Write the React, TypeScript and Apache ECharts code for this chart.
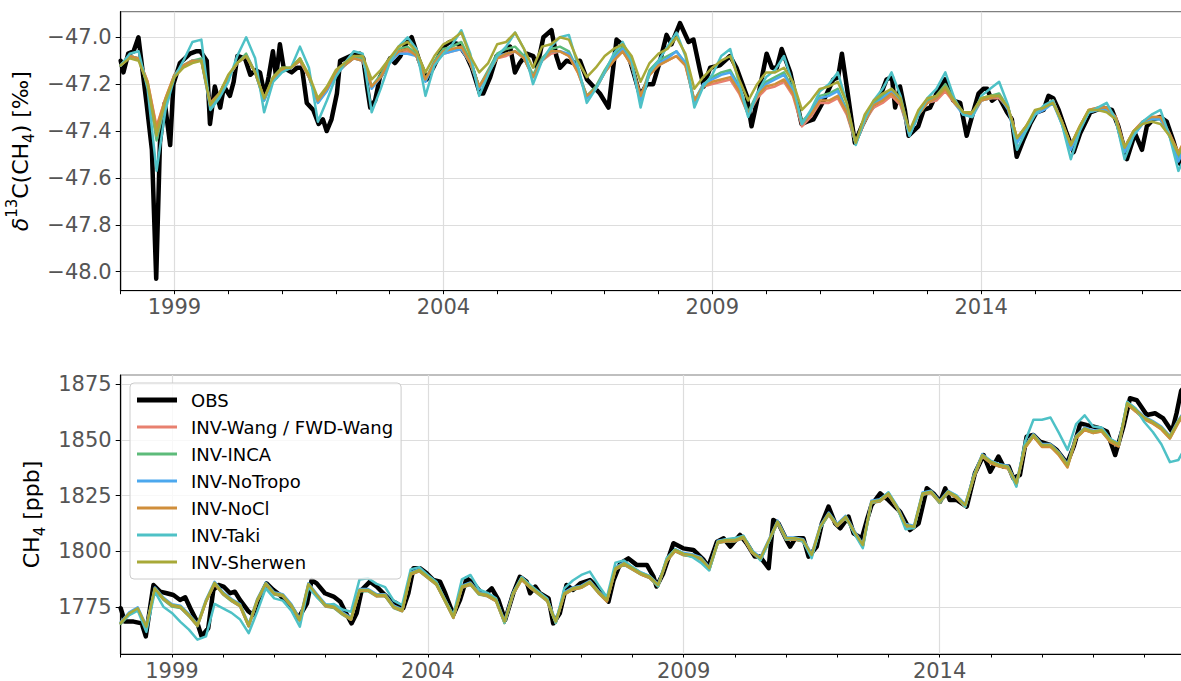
import React, { useEffect, useRef } from 'react';
import * as echarts from 'echarts';

const FONT = 'DejaVu Sans';

const seriesNames = ['OBS', 'INV-Wang / FWD-Wang', 'INV-INCA', 'INV-NoTropo', 'INV-NoCl', 'INV-Taki', 'INV-Sherwen'];
const seriesColors = ['#000000', '#E8806F', '#5DBB7A', '#4CA8EE', '#D08E3B', '#4EC1C6', '#A8A938'];
const majorYears = [1999, 2004, 2009, 2014];

// model output: bimonthly from 1998.0 (6 values per year)
const modelStart = 1998;
const modelPerYear = 6;

// ---------- delta13C(CH4) [permil] ----------
const obsD13cT = [1998.00, 1998.05, 1998.14, 1998.24, 1998.33, 1998.48, 1998.58, 1998.66, 1998.73, 1998.82, 1998.92, 1998.98,
  1999.10, 1999.29, 1999.40, 1999.48, 1999.60, 1999.66, 1999.75, 1999.85, 1999.92, 2000.03, 2000.10, 2000.17, 2000.31, 2000.41,
  2000.50, 2000.59, 2000.68, 2000.75, 2000.83, 2000.89, 2000.96, 2001.03, 2001.18, 2001.28, 2001.37, 2001.46, 2001.58, 2001.68,
  2001.76, 2001.83, 2001.92, 2002.02, 2002.08, 2002.27, 2002.45, 2002.51, 2002.58, 2002.64, 2002.73, 2002.82, 2002.92, 2003.01,
  2003.10, 2003.20, 2003.30, 2003.41, 2003.55, 2003.69, 2003.81, 2004.00, 2004.12, 2004.28, 2004.43, 2004.53, 2004.68, 2004.74,
  2004.87, 2004.99, 2005.11, 2005.24, 2005.33, 2005.42, 2005.55, 2005.67, 2005.74, 2005.86, 2006.01, 2006.10, 2006.17, 2006.29,
  2006.42, 2006.54, 2006.67, 2006.79, 2006.91, 2007.07, 2007.22, 2007.32, 2007.47, 2007.66, 2007.78, 2007.90, 2008.03, 2008.15,
  2008.24, 2008.40, 2008.56, 2008.65, 2008.77, 2008.84, 2008.96, 2009.14, 2009.33, 2009.45, 2009.64, 2009.73, 2009.89, 2010.01,
  2010.11, 2010.20, 2010.29, 2010.45, 2010.66, 2010.76, 2010.88, 2011.07, 2011.25, 2011.34, 2011.41, 2011.50, 2011.65, 2011.78,
  2011.93, 2012.09, 2012.24, 2012.34, 2012.40, 2012.49, 2012.58, 2012.65, 2012.83, 2012.93, 2013.05, 2013.17, 2013.33, 2013.48,
  2013.61, 2013.73, 2013.85, 2013.95, 2014.04, 2014.11, 2014.20, 2014.32, 2014.48, 2014.57, 2014.66, 2014.78, 2014.91, 2015.03,
  2015.16, 2015.25, 2015.34, 2015.44, 2015.59, 2015.72, 2015.84, 2016.03, 2016.15, 2016.27, 2016.43, 2016.55, 2016.71, 2016.86,
  2016.99, 2017.08, 2017.20, 2017.33, 2017.45, 2017.57, 2017.70, 2017.80];
const obsD13cV = [-47.10, -47.15, -47.07, -47.06, -47.00, -47.28, -47.48, -48.03, -47.45, -47.28, -47.46, -47.20,
  -47.11, -47.07, -47.06, -47.06, -47.10, -47.37, -47.21, -47.30, -47.21, -47.25, -47.19, -47.08, -47.09, -47.16,
  -47.14, -47.15, -47.25, -47.17, -47.06, -47.17, -47.03, -47.13, -47.15, -47.13, -47.13, -47.28, -47.31, -47.37,
  -47.35, -47.40, -47.35, -47.24, -47.10, -47.08, -47.07, -47.09, -47.21, -47.30, -47.27, -47.17, -47.13, -47.09,
  -47.11, -47.08, -47.03, -47.00, -47.10, -47.18, -47.13, -47.04, -47.02, -47.03, -47.08, -47.13, -47.24, -47.24,
  -47.17, -47.08, -47.07, -47.04, -47.15, -47.11, -47.07, -47.08, -47.13, -47.00, -46.97, -47.08, -47.13, -47.10,
  -47.11, -47.10, -47.18, -47.21, -47.24, -47.30, -47.01, -47.03, -47.10, -47.25, -47.20, -47.20, -47.10, -46.99,
  -47.03, -46.94, -47.02, -47.01, -47.14, -47.21, -47.13, -47.12, -47.08, -47.13, -47.25, -47.38, -47.21, -47.07,
  -47.13, -47.13, -47.05, -47.15, -47.37, -47.36, -47.35, -47.27, -47.18, -47.17, -47.07, -47.21, -47.45, -47.38,
  -47.31, -47.27, -47.18, -47.17, -47.30, -47.21, -47.31, -47.42, -47.38, -47.31, -47.30, -47.24, -47.18, -47.27,
  -47.28, -47.42, -47.32, -47.24, -47.22, -47.22, -47.27, -47.25, -47.32, -47.35, -47.51, -47.44, -47.37, -47.32,
  -47.31, -47.25, -47.26, -47.31, -47.41, -47.49, -47.41, -47.32, -47.31, -47.30, -47.31, -47.38, -47.52, -47.41,
  -47.48, -47.38, -47.35, -47.34, -47.36, -47.44, -47.54, -47.50];

const d13cWang = [
  -47.12, -47.08, -47.09, -47.19, -47.38, -47.26,
  -47.16, -47.12, -47.10, -47.10, -47.28, -47.24,
  -47.17, -47.11, -47.08, -47.15, -47.26, -47.18,
  -47.14, -47.13, -47.10, -47.17, -47.27, -47.22,
  -47.15, -47.12, -47.09, -47.10, -47.21, -47.17,
  -47.11, -47.07, -47.06, -47.08, -47.18, -47.11,
  -47.07, -47.06, -47.05, -47.11, -47.21, -47.15,
  -47.09, -47.08, -47.06, -47.09, -47.17, -47.10,
  -47.07, -47.06, -47.08, -47.15, -47.25, -47.22,
  -47.15, -47.10, -47.06, -47.12, -47.25, -47.16,
  -47.12, -47.10, -47.08, -47.12, -47.27, -47.21,
  -47.20, -47.19, -47.18, -47.24, -47.33, -47.26,
  -47.22, -47.21, -47.19, -47.25, -47.38, -47.34,
  -47.28, -47.28, -47.26, -47.33, -47.45, -47.36,
  -47.30, -47.28, -47.25, -47.29, -47.41, -47.33,
  -47.28, -47.27, -47.23, -47.28, -47.32, -47.33,
  -47.27, -47.26, -47.26, -47.30, -47.43, -47.38,
  -47.32, -47.30, -47.27, -47.36, -47.46, -47.38,
  -47.31, -47.30, -47.30, -47.34, -47.47, -47.40,
  -47.36, -47.34, -47.34, -47.41, -47.50, -47.42];
const d13cInca = [
  -47.12, -47.08, -47.09, -47.20, -47.44, -47.28,
  -47.16, -47.12, -47.10, -47.09, -47.29, -47.25,
  -47.17, -47.11, -47.07, -47.15, -47.27, -47.17,
  -47.13, -47.13, -47.09, -47.17, -47.28, -47.22,
  -47.15, -47.11, -47.08, -47.09, -47.21, -47.16,
  -47.09, -47.05, -47.04, -47.07, -47.18, -47.10,
  -47.05, -47.04, -47.02, -47.10, -47.21, -47.14,
  -47.07, -47.05, -47.04, -47.08, -47.16, -47.09,
  -47.05, -47.04, -47.06, -47.14, -47.25, -47.21,
  -47.14, -47.08, -47.04, -47.11, -47.26, -47.14,
  -47.10, -47.08, -47.06, -47.11, -47.27, -47.20,
  -47.17, -47.15, -47.14, -47.21, -47.32, -47.24,
  -47.19, -47.17, -47.15, -47.22, -47.36, -47.32,
  -47.25, -47.24, -47.22, -47.31, -47.45, -47.35,
  -47.28, -47.25, -47.22, -47.27, -47.41, -47.32,
  -47.27, -47.25, -47.20, -47.27, -47.32, -47.33,
  -47.26, -47.25, -47.24, -47.30, -47.44, -47.39,
  -47.32, -47.30, -47.27, -47.37, -47.47, -47.39,
  -47.32, -47.31, -47.31, -47.35, -47.48, -47.41,
  -47.37, -47.35, -47.35, -47.42, -47.52, -47.44];
const d13cNoTropo = [
  -47.12, -47.08, -47.09, -47.20, -47.42, -47.28,
  -47.16, -47.12, -47.10, -47.10, -47.30, -47.25,
  -47.17, -47.11, -47.08, -47.15, -47.27, -47.18,
  -47.14, -47.13, -47.10, -47.17, -47.28, -47.23,
  -47.16, -47.12, -47.09, -47.10, -47.22, -47.17,
  -47.11, -47.07, -47.07, -47.08, -47.19, -47.11,
  -47.07, -47.06, -47.05, -47.11, -47.22, -47.15,
  -47.08, -47.07, -47.06, -47.09, -47.17, -47.10,
  -47.06, -47.06, -47.07, -47.14, -47.26, -47.22,
  -47.15, -47.09, -47.05, -47.12, -47.27, -47.15,
  -47.11, -47.09, -47.06, -47.11, -47.28, -47.20,
  -47.18, -47.16, -47.15, -47.22, -47.33, -47.25,
  -47.20, -47.18, -47.16, -47.23, -47.37, -47.33,
  -47.26, -47.25, -47.23, -47.32, -47.45, -47.36,
  -47.29, -47.26, -47.23, -47.28, -47.42, -47.33,
  -47.28, -47.26, -47.21, -47.28, -47.33, -47.34,
  -47.27, -47.26, -47.25, -47.31, -47.45, -47.39,
  -47.33, -47.31, -47.28, -47.37, -47.48, -47.39,
  -47.32, -47.31, -47.31, -47.35, -47.49, -47.42,
  -47.37, -47.35, -47.35, -47.42, -47.53, -47.45];
const d13cNoCl = [
  -47.12, -47.08, -47.09, -47.19, -47.39, -47.26,
  -47.16, -47.12, -47.10, -47.10, -47.28, -47.24,
  -47.17, -47.11, -47.08, -47.15, -47.26, -47.18,
  -47.14, -47.13, -47.10, -47.17, -47.27, -47.22,
  -47.15, -47.12, -47.09, -47.10, -47.21, -47.17,
  -47.10, -47.06, -47.05, -47.08, -47.18, -47.11,
  -47.06, -47.05, -47.04, -47.11, -47.21, -47.15,
  -47.09, -47.07, -47.06, -47.09, -47.17, -47.10,
  -47.06, -47.06, -47.08, -47.15, -47.25, -47.22,
  -47.15, -47.10, -47.06, -47.12, -47.25, -47.16,
  -47.12, -47.10, -47.08, -47.12, -47.27, -47.21,
  -47.19, -47.18, -47.17, -47.23, -47.33, -47.25,
  -47.21, -47.20, -47.18, -47.24, -47.37, -47.33,
  -47.27, -47.27, -47.25, -47.32, -47.45, -47.36,
  -47.29, -47.27, -47.24, -47.28, -47.41, -47.33,
  -47.28, -47.26, -47.22, -47.28, -47.32, -47.33,
  -47.27, -47.26, -47.25, -47.30, -47.43, -47.38,
  -47.32, -47.30, -47.27, -47.36, -47.46, -47.38,
  -47.31, -47.30, -47.30, -47.34, -47.47, -47.40,
  -47.36, -47.34, -47.34, -47.41, -47.49, -47.42];
const d13cTaki = [
  -47.12, -47.07, -47.06, -47.22, -47.57, -47.31,
  -47.17, -47.10, -47.02, -47.01, -47.31, -47.26,
  -47.19, -47.08, -47.00, -47.09, -47.32, -47.19,
  -47.15, -47.13, -47.04, -47.13, -47.36, -47.27,
  -47.17, -47.11, -47.06, -47.07, -47.32, -47.22,
  -47.11, -47.04, -47.00, -47.05, -47.25, -47.12,
  -47.07, -47.03, -46.97, -47.07, -47.25, -47.16,
  -47.08, -47.04, -46.98, -47.05, -47.20, -47.10,
  -47.04, -47.00, -46.99, -47.12, -47.28, -47.22,
  -47.15, -47.07, -47.02, -47.10, -47.30, -47.15,
  -47.10, -47.04, -46.98, -47.08, -47.30, -47.21,
  -47.16, -47.08, -47.05, -47.20, -47.34, -47.24,
  -47.17, -47.14, -47.08, -47.20, -47.37, -47.31,
  -47.23, -47.20, -47.15, -47.28, -47.46, -47.35,
  -47.27, -47.22, -47.15, -47.25, -47.42, -47.33,
  -47.26, -47.22, -47.15, -47.26, -47.33, -47.34,
  -47.25, -47.22, -47.19, -47.29, -47.48, -47.40,
  -47.33, -47.29, -47.27, -47.37, -47.52, -47.40,
  -47.32, -47.30, -47.28, -47.35, -47.52, -47.42,
  -47.36, -47.33, -47.31, -47.42, -47.57, -47.49];
const d13cSherwen = [
  -47.12, -47.09, -47.10, -47.20, -47.42, -47.27,
  -47.17, -47.13, -47.11, -47.10, -47.29, -47.24,
  -47.16, -47.11, -47.08, -47.15, -47.26, -47.17,
  -47.13, -47.13, -47.09, -47.16, -47.26, -47.21,
  -47.14, -47.11, -47.08, -47.08, -47.18, -47.14,
  -47.09, -47.04, -47.02, -47.06, -47.15, -47.08,
  -47.03, -47.01, -46.98, -47.08, -47.15, -47.11,
  -47.03, -47.02, -46.98, -47.05, -47.13, -47.04,
  -47.03, -47.00, -47.01, -47.10, -47.17, -47.13,
  -47.08, -47.05, -47.03, -47.08, -47.19, -47.11,
  -47.07, -47.05, -47.00, -47.07, -47.22, -47.17,
  -47.13, -47.10, -47.08, -47.18, -47.27, -47.20,
  -47.15, -47.15, -47.13, -47.19, -47.31, -47.27,
  -47.22, -47.21, -47.19, -47.28, -47.45, -47.33,
  -47.27, -47.24, -47.22, -47.26, -47.40, -47.31,
  -47.26, -47.25, -47.21, -47.27, -47.32, -47.32,
  -47.26, -47.25, -47.25, -47.30, -47.43, -47.38,
  -47.31, -47.30, -47.28, -47.36, -47.46, -47.38,
  -47.31, -47.31, -47.32, -47.35, -47.47, -47.40,
  -47.37, -47.36, -47.37, -47.42, -47.50, -47.43];

// ---------- CH4 [ppb] ----------
const obsCh4T = [1998.00, 1998.08, 1998.25, 1998.41, 1998.49, 1998.64, 1998.77, 1998.90, 1999.03, 1999.16, 1999.26, 1999.36,
  1999.49, 1999.58, 1999.71, 1999.81, 1999.91, 2000.01, 2000.14, 2000.23, 2000.33, 2000.50, 2000.59, 2000.79, 2000.85,
  2000.98, 2001.11, 2001.31, 2001.47, 2001.64, 2001.73, 2001.83, 2001.99, 2002.16, 2002.29, 2002.42, 2002.51, 2002.61,
  2002.71, 2002.87, 2003.00, 2003.13, 2003.26, 2003.39, 2003.52, 2003.62, 2003.72, 2003.85, 2003.98, 2004.11, 2004.24,
  2004.34, 2004.50, 2004.63, 2004.76, 2004.89, 2005.05, 2005.15, 2005.25, 2005.38, 2005.51, 2005.67, 2005.80, 2005.93,
  2006.00, 2006.10, 2006.19, 2006.36, 2006.45, 2006.58, 2006.71, 2006.84, 2006.98, 2007.17, 2007.30, 2007.43, 2007.53,
  2007.63, 2007.76, 2007.92, 2008.08, 2008.28, 2008.41, 2008.47, 2008.60, 2008.80, 2008.99, 2009.19, 2009.39, 2009.48,
  2009.65, 2009.78, 2009.91, 2010.10, 2010.23, 2010.39, 2010.49, 2010.66, 2010.75, 2010.85, 2011.01, 2011.08, 2011.18,
  2011.34, 2011.44, 2011.60, 2011.70, 2011.83, 2011.96, 2012.06, 2012.22, 2012.32, 2012.48, 2012.58, 2012.67, 2012.84,
  2013.00, 2013.23, 2013.42, 2013.59, 2013.75, 2013.88, 2014.01, 2014.11, 2014.20, 2014.34, 2014.53, 2014.69, 2014.86,
  2014.99, 2015.15, 2015.25, 2015.35, 2015.44, 2015.57, 2015.70, 2015.83, 2015.96, 2016.16, 2016.29, 2016.49, 2016.62,
  2016.75, 2016.88, 2017.01, 2017.14, 2017.27, 2017.43, 2017.59, 2017.72, 2017.85, 2018.05, 2018.21, 2018.37, 2018.54,
  2018.63, 2018.72, 2018.80];
const obsCh4V = [1774.6, 1768.6, 1768.6, 1767.8, 1762.0, 1785.0, 1782.0, 1781.3, 1780.5, 1778.3, 1779.5, 1774.6,
  1768.6, 1762.0, 1765.6, 1782.8, 1785.0, 1784.3, 1781.3, 1782.0, 1778.3, 1773.1, 1771.6, 1782.8, 1785.7,
  1782.8, 1780.5, 1776.0, 1770.1, 1776.8, 1787.2, 1785.7, 1781.3, 1779.8, 1777.5, 1771.6, 1767.8, 1772.3,
  1782.8, 1786.5, 1784.3, 1781.3, 1778.3, 1776.8, 1774.6, 1781.3, 1792.5, 1792.5, 1790.2, 1787.2, 1786.5,
  1781.3, 1771.6, 1778.3, 1788.0, 1785.7, 1781.3, 1781.3, 1783.5, 1778.3, 1769.3, 1781.3, 1788.7, 1786.5,
  1781.3, 1784.3, 1781.3, 1779.0, 1767.8, 1772.3, 1785.0, 1782.8, 1785.7, 1787.2, 1784.3, 1780.5, 1777.5,
  1787.2, 1794.7, 1796.9, 1794.0, 1794.0, 1788.7, 1784.3, 1790.2, 1803.7, 1801.4, 1800.7, 1796.2, 1793.2,
  1804.4, 1805.9, 1802.2, 1807.4, 1803.7, 1797.7, 1797.7, 1792.5, 1814.1, 1812.6, 1805.1, 1802.2, 1805.9,
  1805.9, 1797.7, 1802.2, 1812.6, 1820.1, 1812.6, 1810.4, 1815.6, 1808.1, 1805.9, 1814.1, 1820.8, 1826.0,
  1823.0, 1817.8, 1809.6, 1812.6, 1828.3, 1826.0, 1822.3, 1828.3, 1823.0, 1823.0, 1820.1, 1835.0, 1843.2,
  1835.7, 1842.5, 1838.0, 1838.0, 1832.8, 1834.3, 1851.4, 1852.2, 1849.2, 1847.7, 1845.4, 1839.5, 1847.0,
  1857.4, 1856.6, 1855.9, 1855.1, 1853.7, 1843.2, 1855.9, 1868.6, 1867.8, 1861.1, 1861.9, 1859.6, 1853.7,
  1861.9, 1872.0, 1874.0];

const ch4Wang = [
  1767.8, 1772.0, 1774.3, 1766.0, 1783.2, 1778.6,
  1775.6, 1774.9, 1771.2, 1766.7, 1777.6, 1785.6,
  1780.9, 1777.9, 1775.6, 1766.6, 1777.9, 1785.3,
  1780.9, 1780.1, 1775.6, 1768.9, 1785.0, 1780.1,
  1775.6, 1774.9, 1771.9, 1769.6, 1782.4, 1782.4,
  1780.1, 1780.1, 1774.9, 1773.4, 1789.8, 1791.3,
  1788.3, 1785.3, 1777.9, 1770.4, 1783.9, 1785.3,
  1780.9, 1780.1, 1777.9, 1768.2, 1780.9, 1787.6,
  1783.9, 1780.9, 1777.9, 1768.2, 1780.9, 1783.1,
  1783.9, 1786.1, 1781.6, 1777.9, 1792.1, 1794.3,
  1792.1, 1789.8, 1788.3, 1784.6, 1795.8, 1800.3,
  1798.5, 1798.0, 1796.6, 1792.1, 1804.0, 1804.7,
  1804.7, 1806.2, 1799.6, 1796.6, 1804.7, 1813.0,
  1805.5, 1805.5, 1804.7, 1798.1, 1810.7, 1816.6,
  1811.5, 1815.2, 1808.5, 1802.5, 1821.9, 1822.6,
  1825.6, 1819.7, 1811.5, 1810.7, 1825.6, 1826.4,
  1821.9, 1826.4, 1824.2, 1820.4, 1833.1, 1842.8,
  1839.8, 1838.3, 1837.6, 1830.1, 1846.6, 1851.8,
  1847.3, 1847.3, 1843.6, 1838.3, 1851.0, 1854.7,
  1853.3, 1854.0, 1849.5, 1847.6, 1866.1, 1863.0,
  1859.6, 1857.6, 1855.1, 1851.0, 1858.1, 1863.6];
const ch4Inca = [
  1767.6, 1771.7, 1774.0, 1765.7, 1782.9, 1778.4,
  1775.4, 1774.7, 1771.0, 1766.5, 1777.4, 1785.4,
  1780.7, 1777.7, 1775.4, 1766.4, 1777.7, 1785.1,
  1780.7, 1779.9, 1775.4, 1768.7, 1784.8, 1779.9,
  1775.4, 1774.7, 1771.7, 1769.4, 1782.2, 1782.2,
  1779.9, 1779.9, 1774.7, 1773.2, 1789.6, 1791.1,
  1788.1, 1785.1, 1777.7, 1770.2, 1783.7, 1785.1,
  1780.7, 1779.9, 1777.7, 1768.0, 1780.7, 1787.4,
  1783.7, 1780.7, 1777.7, 1768.0, 1780.7, 1782.9,
  1783.7, 1785.9, 1781.4, 1777.7, 1791.9, 1794.1,
  1791.9, 1789.6, 1788.1, 1784.4, 1795.6, 1800.1,
  1798.3, 1797.8, 1796.4, 1791.9, 1803.8, 1804.5,
  1804.5, 1806.0, 1799.4, 1796.4, 1804.5, 1812.8,
  1805.3, 1805.3, 1804.5, 1797.9, 1810.5, 1816.4,
  1811.3, 1815.0, 1808.3, 1802.3, 1821.7, 1822.4,
  1825.4, 1819.5, 1811.3, 1810.5, 1825.4, 1826.2,
  1821.7, 1826.2, 1824.0, 1820.2, 1832.9, 1842.6,
  1839.6, 1838.1, 1837.4, 1829.9, 1846.4, 1851.6,
  1847.1, 1847.1, 1843.4, 1838.1, 1850.8, 1854.5,
  1853.1, 1853.8, 1849.3, 1847.4, 1865.9, 1862.8,
  1859.4, 1857.4, 1854.9, 1850.8, 1857.9, 1863.4];
const ch4NoTropo = [
  1768.4, 1772.7, 1775.0, 1766.7, 1783.9, 1779.4,
  1776.4, 1775.7, 1772.0, 1767.5, 1778.4, 1786.4,
  1781.7, 1778.7, 1776.4, 1767.4, 1778.7, 1786.1,
  1781.7, 1780.9, 1776.4, 1769.7, 1785.8, 1780.9,
  1776.4, 1775.7, 1772.7, 1770.4, 1783.2, 1783.2,
  1780.9, 1780.9, 1775.7, 1774.2, 1790.6, 1792.1,
  1789.1, 1786.1, 1778.7, 1771.2, 1784.7, 1786.1,
  1781.7, 1780.9, 1778.7, 1769.0, 1781.7, 1788.4,
  1784.7, 1781.7, 1778.7, 1769.0, 1781.7, 1783.9,
  1784.7, 1786.9, 1782.4, 1778.7, 1792.9, 1795.1,
  1792.9, 1790.6, 1789.1, 1785.4, 1796.6, 1801.1,
  1799.3, 1798.8, 1797.4, 1792.9, 1804.8, 1805.5,
  1805.5, 1807.0, 1800.4, 1797.4, 1805.5, 1813.8,
  1806.3, 1806.3, 1805.5, 1798.9, 1811.5, 1817.4,
  1812.3, 1816.0, 1809.3, 1803.3, 1822.7, 1823.4,
  1826.4, 1820.5, 1812.3, 1811.5, 1826.4, 1827.2,
  1822.7, 1827.2, 1825.0, 1821.2, 1833.9, 1843.6,
  1840.6, 1839.1, 1838.4, 1830.9, 1847.4, 1852.6,
  1848.1, 1848.1, 1844.4, 1839.1, 1851.8, 1855.5,
  1854.1, 1854.8, 1850.3, 1848.4, 1866.9, 1863.8,
  1860.4, 1858.4, 1855.9, 1851.8, 1858.9, 1864.4];
const ch4NoCl = [
  1767.9, 1772.1, 1774.2, 1766.1, 1783.0, 1778.7,
  1775.8, 1775.0, 1771.3, 1766.8, 1777.5, 1785.5,
  1781.0, 1778.0, 1775.5, 1766.5, 1778.0, 1785.2,
  1781.0, 1780.2, 1775.5, 1769.0, 1784.9, 1780.0,
  1775.5, 1775.0, 1772.0, 1769.5, 1782.3, 1782.5,
  1780.0, 1780.2, 1775.0, 1773.3, 1789.7, 1791.2,
  1788.2, 1785.2, 1778.0, 1770.3, 1783.8, 1785.2,
  1781.0, 1780.0, 1777.8, 1768.0, 1780.8, 1787.3,
  1783.8, 1781.0, 1777.8, 1768.1, 1780.8, 1783.0,
  1783.8, 1786.0, 1781.5, 1777.6, 1792.0, 1794.2,
  1792.0, 1789.7, 1788.2, 1784.5, 1795.7, 1800.2,
  1798.4, 1797.9, 1796.5, 1791.8, 1803.9, 1804.6,
  1804.6, 1806.1, 1799.5, 1796.3, 1804.6, 1812.9,
  1805.4, 1805.4, 1804.6, 1797.8, 1810.6, 1816.5,
  1811.4, 1815.1, 1808.3, 1802.2, 1821.8, 1822.5,
  1825.5, 1819.6, 1811.2, 1810.4, 1825.5, 1826.3,
  1821.8, 1826.3, 1824.0, 1820.0, 1833.0, 1842.5,
  1839.5, 1838.0, 1837.2, 1829.5, 1846.2, 1851.5,
  1846.8, 1846.9, 1843.0, 1837.6, 1850.6, 1854.4,
  1853.0, 1853.7, 1849.0, 1847.0, 1865.8, 1862.6,
  1859.2, 1857.2, 1854.6, 1850.5, 1857.6, 1863.2];
const ch4Taki = [
  1768.0, 1771.5, 1773.5, 1764.0, 1782.0, 1775.3,
  1772.5, 1768.5, 1765.0, 1760.5, 1762.0, 1776.5,
  1774.5, 1772.5, 1769.5, 1763.4, 1773.0, 1783.5,
  1779.0, 1778.0, 1773.5, 1766.3, 1784.0, 1779.5,
  1776.0, 1776.5, 1774.0, 1773.0, 1787.5, 1788.0,
  1785.5, 1784.0, 1778.0, 1776.0, 1792.0, 1793.0,
  1789.5, 1786.5, 1778.5, 1771.5, 1787.5, 1789.5,
  1783.0, 1781.5, 1779.0, 1768.0, 1781.5, 1788.5,
  1785.0, 1782.0, 1779.0, 1768.0, 1783.5, 1787.0,
  1789.5, 1791.0, 1785.0, 1779.5, 1795.0, 1796.0,
  1793.0, 1790.5, 1789.0, 1784.5, 1797.0, 1801.0,
  1799.0, 1797.5, 1795.0, 1791.5, 1804.5, 1805.5,
  1806.0, 1807.0, 1800.5, 1796.0, 1804.5, 1813.4,
  1805.5, 1806.0, 1804.5, 1797.0, 1810.5, 1817.0,
  1812.0, 1815.5, 1808.0, 1801.5, 1822.0, 1823.0,
  1826.5, 1820.0, 1810.0, 1810.5, 1826.0, 1827.0,
  1822.0, 1826.8, 1825.0, 1820.0, 1834.0, 1843.0,
  1840.5, 1839.0, 1838.0, 1829.0, 1849.0, 1859.0,
  1859.0, 1860.0, 1853.0, 1845.5, 1857.0, 1861.0,
  1856.0, 1855.5, 1850.5, 1848.0, 1867.0, 1864.0,
  1858.0, 1853.5, 1848.0, 1840.0, 1841.0, 1848.0];
const ch4Sherwen = [
  1768.0, 1772.3, 1774.6, 1766.3, 1783.5, 1779.0,
  1776.0, 1775.3, 1771.6, 1767.1, 1778.0, 1786.0,
  1781.3, 1778.3, 1776.0, 1767.0, 1778.3, 1785.7,
  1781.3, 1780.5, 1776.0, 1769.3, 1785.4, 1780.5,
  1776.0, 1775.3, 1772.3, 1770.0, 1782.8, 1782.8,
  1780.5, 1780.5, 1775.3, 1773.8, 1790.2, 1791.7,
  1788.7, 1785.7, 1778.3, 1770.8, 1784.3, 1785.7,
  1781.3, 1780.5, 1778.3, 1768.6, 1781.3, 1788.0,
  1784.3, 1781.3, 1778.3, 1768.6, 1781.3, 1783.5,
  1784.3, 1786.5, 1782.0, 1778.3, 1792.5, 1794.7,
  1792.5, 1790.2, 1788.7, 1785.0, 1796.2, 1800.7,
  1798.9, 1798.4, 1797.0, 1792.5, 1804.4, 1805.1,
  1805.1, 1806.6, 1800.0, 1797.0, 1805.1, 1813.4,
  1805.9, 1805.9, 1805.1, 1798.5, 1811.1, 1817.0,
  1811.9, 1815.6, 1808.9, 1802.9, 1822.3, 1823.0,
  1826.0, 1820.1, 1811.9, 1811.1, 1826.0, 1826.8,
  1822.3, 1826.8, 1824.6, 1820.8, 1833.5, 1843.2,
  1840.2, 1838.7, 1838.0, 1830.5, 1847.0, 1852.2,
  1847.7, 1847.7, 1844.0, 1838.7, 1851.4, 1855.1,
  1853.7, 1854.4, 1849.9, 1848.0, 1866.5, 1863.4,
  1860.0, 1858.0, 1855.5, 1851.4, 1858.5, 1864.0];

const d13cModels = [d13cWang, d13cInca, d13cNoTropo, d13cNoCl, d13cTaki, d13cSherwen];
const ch4Models = [ch4Wang, ch4Inca, ch4NoTropo, ch4NoCl, ch4Taki, ch4Sherwen];

const pairs = (t: number[], v: number[]) => t.map((x, i) => [x, v[i]]);
const modelPairs = (v: number[]) => v.map((y, i) => [modelStart + i / modelPerYear, y]);

const xMin = 1998;
const splitColors = Array.from({ length: 5 }, (_, i) =>
  (xMin + i) % 5 === majorYears[0] % 5 ? '#dddddd' : 'rgba(0,0,0,0)');

function xAxisCfg(gridIndex: number, max: number) {
  return {
    type: 'value', gridIndex, min: xMin, max, interval: 1,
    axisLine: { show: true, onZero: false, lineStyle: { color: '#000', width: 1.2 } },
    axisTick: { show: true, length: 3.5, lineStyle: { color: '#000', width: 1 } },
    axisLabel: {
      show: true, margin: 6, color: '#555555', fontSize: 21, fontFamily: FONT, showMaxLabel: false,
      formatter: (v: number) => {
        const r = Math.round(v);
        return Math.abs(v - r) < 1e-6 && majorYears.includes(r) ? String(r) : '';
      },
    },
    splitLine: { show: true, lineStyle: { color: splitColors, width: 1.2 } },
  };
}

const nameRich = {
  it: { fontStyle: 'italic', fontSize: 22, color: '#000', fontFamily: FONT, lineHeight: 32 },
  sup: { fontSize: 15, color: '#000', fontFamily: FONT, verticalAlign: 'top', lineHeight: 32 },
  sub: { fontSize: 15, color: '#000', fontFamily: FONT, verticalAlign: 'bottom', lineHeight: 28 },
};

function yAxisCfg(gridIndex: number, min: number, max: number, step: number, digits: number, name: string, nameGap: number) {
  return {
    type: 'value', gridIndex, min, max, minInterval: step, maxInterval: step,
    name, nameLocation: 'middle', nameGap,
    nameTextStyle: { fontSize: 22, color: '#000', fontFamily: FONT, lineHeight: 32, rich: nameRich },
    axisLine: { show: true, onZero: false, lineStyle: { color: '#000', width: 1.2 } },
    axisTick: { show: true, length: 5, lineStyle: { color: '#000', width: 1 } },
    axisLabel: {
      margin: 9, color: '#555555', fontSize: 21, fontFamily: FONT, showMinLabel: false, showMaxLabel: false,
      formatter: (v: number) => v.toFixed(digits).replace('-', '\u2212'),
    },
    splitLine: { show: true, showMinLine: false, showMaxLine: false, lineStyle: { color: '#dddddd', width: 1.2 } },
  };
}

function buildSeries() {
  const out: any[] = [];
  const panels = [
    { idx: 0, obs: pairs(obsD13cT, obsD13cV), models: d13cModels },
    { idx: 1, obs: pairs(obsCh4T, obsCh4V), models: ch4Models },
  ];
  panels.forEach((p) => {
    out.push({
      type: 'line', name: seriesNames[0], xAxisIndex: p.idx, yAxisIndex: p.idx, data: p.obs,
      symbol: 'none', color: seriesColors[0], lineStyle: { color: seriesColors[0], width: 4.5, join: 'round', cap: 'round' },
      z: 2,
    });
    p.models.forEach((m, k) => {
      out.push({
        type: 'line', name: seriesNames[k + 1], xAxisIndex: p.idx, yAxisIndex: p.idx, data: modelPairs(m),
        symbol: 'none', color: seriesColors[k + 1],
        lineStyle: { color: seriesColors[k + 1], width: 2.5, join: 'round', cap: 'round' }, z: 3,
      });
    });
  });
  return out;
}

export default function App() {
  const ref = useRef<HTMLDivElement>(null);
  useEffect(() => {
    if (!ref.current) return;
    const chart = echarts.init(ref.current, undefined, { renderer: 'svg' });
    const gridBase = {
      left: 120.7, width: 1061.8, height: 279, show: true, borderColor: '#808080', borderWidth: 1.2,
      backgroundColor: 'transparent', containLabel: false, outerBoundsMode: 'none',
    };
    chart.setOption({
      animation: false,
      backgroundColor: '#ffffff',
      textStyle: { fontFamily: FONT },
      grid: [
        { ...gridBase, top: 11.7 },
        { ...gridBase, top: 375 },
      ],
      xAxis: [xAxisCfg(0, 2017.743), xAxisCfg(1, 2018.746)],
      yAxis: [
        yAxisCfg(0, -48.081, -46.891, 0.2, 1, '{it|\u03b4}{sup|13}C(CH{sub|4}) [\u2030]', 81),
        yAxisCfg(1, 1754.09, 1879.03, 25, 0, 'CH{sub|4} [ppb]', 71),
      ],
      legend: {
        data: seriesNames.map((n, i) => ({
          name: n,
          icon: i === 0 ? 'path://M0,0H40V5H0Z' : 'path://M0,0H40V3H0Z',
        })),
        orient: 'vertical', left: 130, top: 383,
        padding: [8, 8, 8, 7], itemGap: 9, itemWidth: 40, itemHeight: 14,
        itemStyle: { borderWidth: 0 },
        backgroundColor: 'rgba(255,255,255,0.8)', borderColor: '#cccccc', borderWidth: 1, borderRadius: 4,
        textStyle: { fontSize: 18, color: '#000', fontFamily: FONT, lineHeight: 18, padding: [0, 0, 0, 9] },
      },
      series: buildSeries(),
    });
    return () => chart.dispose();
  }, []);
  return <div ref={ref} style={{ position: 'absolute', left: 0, top: 0, width: 1181, height: 681 }} />;
}
